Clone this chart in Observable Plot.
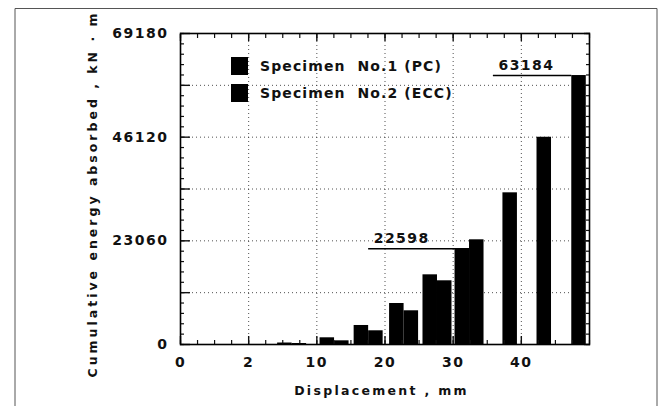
<!DOCTYPE html>
<html><head><meta charset="utf-8">
<script src="https://cdn.jsdelivr.net/npm/d3@7"></script>
<script src="https://cdn.jsdelivr.net/npm/@observablehq/plot@0.6"></script>
<style>
body{margin:0;background:#fff;}
#wrap{position:relative;width:668px;height:406px;overflow:hidden;font-family:"DejaVu Sans",sans-serif;font-weight:bold;color:#111;}
.lg{position:absolute;display:flex;align-items:center;font-size:14px;letter-spacing:1.1px;white-space:pre;}
.sw{width:17px;height:18px;background:#000;margin-right:12px;}
</style></head><body><div id="wrap"></div>
<script>
// ---- data ----
const xBreaks = [0, 2, 10, 20, 30, 40, 50];          // axis break points (mm), equally spaced on the axis
const xTickValues = [0, 2, 10, 20, 30, 40];
const xTickLabels = ["0", "2", "10", "20", "30", "40"];
const yTickValues = [0, 23060, 46120, 69180];
const yGridValues = [11530, 23060, 34590, 46120, 57650];
const xGridValues = [2, 10, 20, 30, 40];
const groupDisp = [7.1, 12.6, 17.6, 22.8, 27.7, 32.4, 37.3, 42.3, 47.4];   // mm, boundary between the paired bars
const pcEnergy  = [330, 1490, 4230, 9120, 15500, 21280, null, null, null]; // Specimen No.1 (PC)
const eccEnergy = [220, 820, 3050, 7500, 14170, 23290, 33740, 46100, 59830]; // Specimen No.2 (ECC)
const seriesNames = ["Specimen  No.1 (PC)", "Specimen  No.2 (ECC)"];
const calloutText = ["22598", "63184"];
const calloutGroup = [5, 8];
const calloutSeries = ["pc", "ecc"];
const calloutFrom = [17.6, 35.9];   // mm, where the callout line starts
const yLabel = "Cumulative energy absorbed , kN · m";
const xLabel = "Displacement , mm";

// ---- derived tables ----
const pcBars = groupDisp.map((d, i) => ({d, v: pcEnergy[i]})).filter(b => b.v != null);
const eccBars = groupDisp.map((d, i) => ({d, v: eccEnergy[i]})).filter(b => b.v != null);
const callouts = calloutText.map((t, i) => {
  const g = calloutGroup[i];
  const v = calloutSeries[i] === "pc" ? pcEnergy[g] : eccEnergy[g];
  return {label: t, v, from: calloutFrom[i], to: groupDisp[g]};
});
const xMinor = [];
for (let i = 0; i < xBreaks.length - 1; i++) {
  for (let k = 0; k < 4; k++) xMinor.push(xBreaks[i] + k * (xBreaks[i + 1] - xBreaks[i]) / 4);
}
xMinor.push(xBreaks[xBreaks.length - 1]);
const yMax = 69180;
const yMinor = d3.range(0, 31).map(k => k * yMax / 30);
const yMajor = [0, ...yGridValues, yMax];

const W = 668, H = 406, mL = 180, mR = 79, mT = 33, mB = 62;
const xRange = xBreaks.map((_, i) => mL + i * (W - mL - mR) / (xBreaks.length - 1));
const blank = () => "";
const gridStyle = {stroke: "#333", strokeOpacity: 0.85, strokeDasharray: "1 3", strokeWidth: 1};

const chart = Plot.plot({
  width: W, height: H,
  marginLeft: mL, marginRight: mR, marginTop: mT, marginBottom: mB,
  style: {fontFamily: "DejaVu Sans, sans-serif", fontWeight: "bold", fontSize: "14px", letterSpacing: "1.5px", color: "#111", background: "#fff"},
  x: {type: "linear", domain: xBreaks, range: xRange, label: null},
  y: {domain: [0, yMax], label: null},
  marks: [
    Plot.gridY(yGridValues, gridStyle),
    Plot.gridX(xGridValues, gridStyle),
    Plot.rectY(pcBars, {x1: "d", x2: "d", y: "v", insetLeft: -14.5, fill: "#000"}),
    Plot.rectY(eccBars, {x1: "d", x2: "d", y: "v", insetRight: -14.5, fill: "#000"}),
    Plot.ruleY(callouts, {y: "v", x1: "from", x2: "to", stroke: "#000", strokeWidth: 1.5}),
    Plot.text(callouts, {x: "from", y: "v", text: "label", textAnchor: "start", lineAnchor: "bottom", dx: 5, dy: -6, fontSize: 14, fill: "#111"}),
    Plot.axisX(xMinor, {anchor: "bottom", tickSize: -4, tickFormat: blank, strokeWidth: 1.2}),
    Plot.axisX(xMinor, {anchor: "top", tickSize: -4, tickFormat: blank, strokeWidth: 1.2}),
    Plot.axisX(xTickValues, {anchor: "bottom", tickSize: -8, tickFormat: blank, strokeWidth: 1.4}),
    Plot.axisX(xTickValues, {anchor: "top", tickSize: -7, tickFormat: blank, strokeWidth: 1.4}),
    Plot.axisX(xTickValues, {anchor: "bottom", tickSize: 0, tickPadding: 13, fontSize: 14,
      tickFormat: d => xTickLabels[xTickValues.indexOf(d)]}),
    Plot.axisY(yMinor, {anchor: "left", tickSize: -4, tickFormat: blank, strokeWidth: 1.2}),
    Plot.axisY(yMinor, {anchor: "right", tickSize: -4, tickFormat: blank, strokeWidth: 1.2}),
    Plot.axisY(yMajor, {anchor: "left", tickSize: -10, tickFormat: blank, strokeWidth: 1.4}),
    Plot.axisY(yMajor, {anchor: "right", tickSize: -6, tickFormat: blank, strokeWidth: 1.4}),
    Plot.axisY(yTickValues, {anchor: "left", tickSize: 0, tickPadding: 12, fontSize: 14, tickFormat: d => String(d)}),
    Plot.frame({stroke: "#000", strokeWidth: 1.6})
  ]
});

const wrap = document.getElementById("wrap");
wrap.appendChild(chart);
const svg = d3.select(chart);
// outer figure border
svg.append("path").attr("d", "M15,406V8.5H657V406").attr("fill", "none").attr("stroke", "#555").attr("stroke-width", 1);
// axis titles
svg.append("text")
  .attr("transform", `translate(92,194) rotate(-90)`)
  .attr("text-anchor", "middle").attr("dominant-baseline", "central")
  .style("font-size", "12.5px").style("letter-spacing", "3px").attr("fill", "#111")
  .text(yLabel);
svg.append("text")
  .attr("x", (mL + W - mR) / 2 - 3).attr("y", 390)
  .attr("text-anchor", "middle").attr("dominant-baseline", "central")
  .style("font-size", "12.5px").style("letter-spacing", "2.3px").attr("fill", "#111")
  .text(xLabel);

// legend
seriesNames.forEach((name, i) => {
  const row = document.createElement("div");
  row.className = "lg";
  row.style.left = "231px";
  row.style.top = (57 + i * 27) + "px";
  row.innerHTML = `<span class="sw"></span><span></span>`;
  row.lastChild.textContent = name;
  wrap.appendChild(row);
});
</script>
</body></html>
